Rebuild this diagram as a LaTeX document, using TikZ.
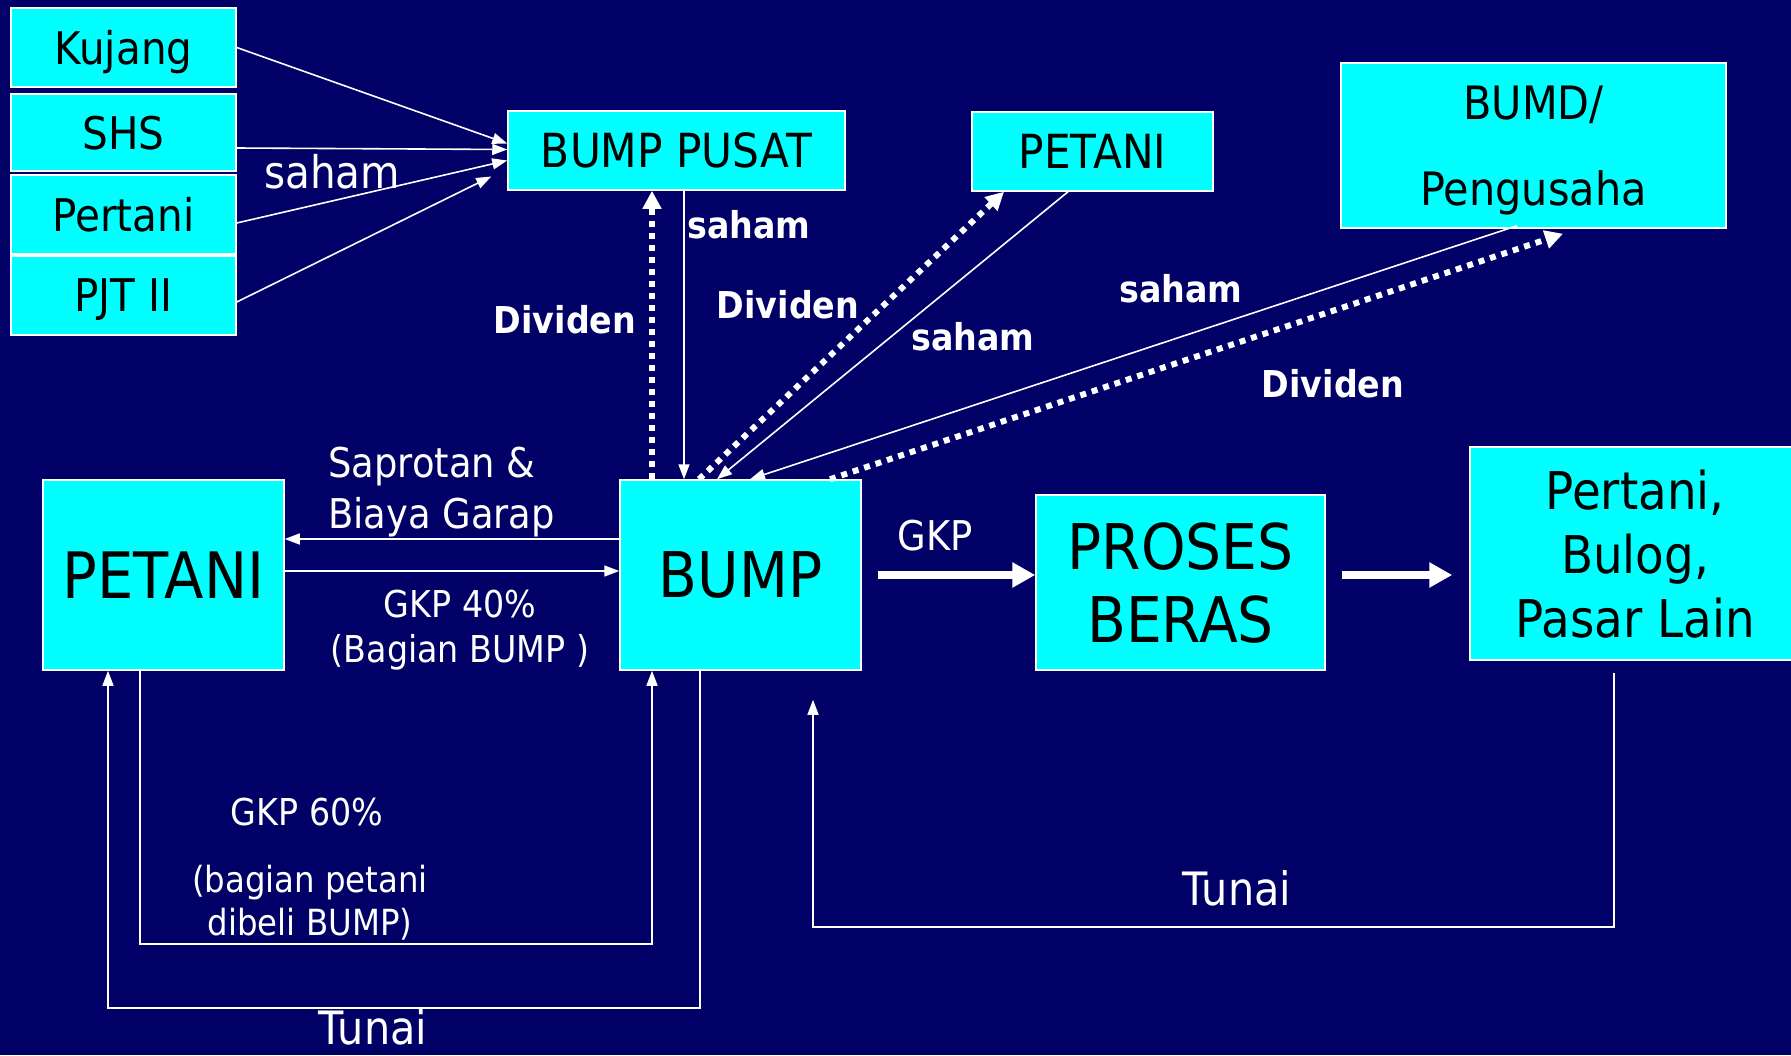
\documentclass[tikz,border=0pt]{standalone}
\usepackage{fontspec}
\setmainfont{DejaVu Sans}[FakeStretch=0.9]
\usetikzlibrary{arrows.meta, calc}

\definecolor{slidebg}{HTML}{000066}
\definecolor{boxcyan}{HTML}{00FFFF}
\newcommand{\fs}[2]{\fontsize{#1}{#2}\selectfont}

\begin{document}
\begin{tikzpicture}[x=1pt, y=-1pt,
    box/.style={draw=white, line width=1.5pt, fill=boxcyan, text=black, inner sep=0pt, align=center, text depth=0pt},
    lbl/.style={text=white, inner sep=0pt, align=center},
    flow/.style={draw=white, line width=1.6pt, -{Triangle[length=15pt, width=11pt]}},
    dividen/.style={draw=white, line width=6pt, dash pattern=on 6pt off 6pt, -{Triangle[length=18pt, width=18pt]}},
    bigflow/.style={draw=white, line width=8pt, -{Triangle[length=23pt, width=24pt]}}]
    % ================= Canvas =================
    \def\W{1791}
    \def\H{1055}
    \fill[slidebg] (0,0) rectangle (\W,\H);
    \useasboundingbox (0,0) rectangle (\W,\H);

    % ================= Shareholders (top left) =================
    \node[box, minimum width=225, minimum height=79, font=\fs{45}{54}] (kujang) at (123.5,47.5) {Kujang};
    \node[box, minimum width=225, minimum height=77, font=\fs{45}{54}] (shs) at (123.5,132.5) {SHS};
    \node[box, minimum width=225, minimum height=79, font=\fs{45}{54}] (pertanisrc) at (123.5,214.5) {Pertani};
    \node[box, minimum width=225, minimum height=79, font=\fs{45}{54}] (pjt) at (123.5,295.5) {PJT II};

    % ================= Top row =================
    \node[box, minimum width=337, minimum height=79, font=\fs{47}{56}] (pusat) at (676.5,150.5) {BUMP PUSAT};
    \node[box, minimum width=241, minimum height=79, font=\fs{47}{56}] (petanitop) at (1092.5,151.5) {PETANI};
    \node[box, minimum width=385, minimum height=165, font=\fs{46}{86}, text depth=-7pt] (bumd) at (1533.5,145.5) {BUMD/\\Pengusaha};

    % ================= Main row =================
    \node[box, minimum width=241, minimum height=190, font=\fs{64}{76}] (petani) at (163.5,575) {PETANI};
    \node[box, minimum width=241, minimum height=190, font=\fs{63}{76}] (bump) at (740.5,575) {BUMP};
    \node[box, minimum width=289, minimum height=175, font=\fs{63}{73}] (proses) at (1180.5,582.5) {PROSES\\BERAS};
    \node[box, minimum width=330, minimum height=213, font=\fs{52}{64}] (pasar) at (1635,553.5) {Pertani,\\Bulog,\\Pasar Lain};

    % ================= Saham into BUMP PUSAT =================
    \draw[flow] (kujang.east) -- ($(pusat.west)+(0,-7)$);
    \draw[flow] ($(shs.east)+(0,15.5)$) -- ($(pusat.west)+(0,-1)$);
    \draw[flow] ($(pertanisrc.east)+(0,8.5)$) -- ($(pusat.west)+(0,10)$);
    \draw[flow] ($(pjt.east)+(0,6.5)$) -- ($(pusat.west)+(-16,26)$);
    \node[lbl, font=\fs{45}{54}] (sahamsrc) at (332,172) {saham};

    % ================= Saham / Dividen with BUMP =================
    \draw[flow] ($(pusat.south)+(7.5,0)$) -- ($(bump.north)+(-56.5,0)$);
    \draw[dividen] ($(bump.north)+(-88.5,0)$) -- ($(pusat.south)+(-24.5,0)$);
    \draw[flow] ($(petanitop.south)+(-24.5,0)$) -- ($(bump.north)+(-23.5,0)$);
    \draw[dividen] ($(bump.north)+(-41.5,0)$) -- ($(petanitop.south)+(-88.5,0)$);
    \draw[flow] ($(bumd.south)+(-16.5,-3)$) -- ($(bump.north)+(9.5,0)$);
    \draw[dividen] ($(bump.north)+(89.5,0)$) -- ($(bumd.south)+(29.5,5)$);

    \node[lbl, font=\bfseries\fs{37}{44}] (sahampusat) at (749,225) {saham};
    \node[lbl, font=\bfseries\fs{37}{44}] (divpusat) at (565,320) {Dividen};
    \node[lbl, font=\bfseries\fs{37}{44}] (divpetani) at (788,305) {Dividen};
    \node[lbl, font=\bfseries\fs{37}{44}] (sahampetani) at (973,337) {saham};
    \node[lbl, font=\bfseries\fs{37}{44}] (sahambumd) at (1181,289) {saham};
    \node[lbl, font=\bfseries\fs{37}{44}] (divbumd) at (1333,384) {Dividen};

    % ================= PETANI <-> BUMP =================
    \draw[flow] ($(bump.west)+(0,-36)$) -- ($(petani.east)+(0,-36)$);
    \draw[flow] ($(petani.east)+(0,-4)$) -- ($(bump.west)+(0,-4)$);
    \node[lbl, align=left, anchor=west, font=\fs{41}{51}] (saprotan) at (328,492) {Saprotan \&\\Biaya Garap};
    \node[lbl, font=\fs{37}{45}] (gkp40) at (460,630) {GKP 40\%\\(Bagian BUMP )};

    % GKP 60% loop and cash loop
    \draw[flow] ($(petani.south)+(-23.5,0)$) -- ++(0,273) -| ($(bump.south)+(-88.5,0)$);
    \draw[flow] ($(bump.south)+(-40.5,0)$) -- ++(0,337) -| ($(petani.south)+(-55.5,0)$);
    \node[lbl, font=\fs{37}{45}] (gkp60) at (307,812) {GKP 60\%};
    \node[lbl, font=\fs{36}{43}] (dibeli) at (310,903) {(bagian petani\\dibeli BUMP)};
    \node[lbl, font=\fs{46}{55}] (tunaikiri) at (373,1027) {Tunai};

    % ================= Rice chain =================
    \draw[bigflow] ($(bump.east)+(16,0)$) -- ($(proses.west)+(0,-7.5)$);
    \node[lbl, font=\fs{41}{49}] (gkp) at (935,536) {GKP};
    \draw[bigflow] ($(proses.east)+(16,-7.5)$) -- ($(pasar.west)+(-17,21.5)$);

    % cash back towards BUMP (free end)
    \coordinate (cashend) at ($(bump.south)+(72.5,29)$);
    \draw[flow] ($(pasar.south)+(-21,12)$) -- ++(0,254) -| (cashend);
    \node[lbl, font=\fs{46}{55}] (tunaikanan) at (1237,888) {Tunai};
\end{tikzpicture}
\end{document}
